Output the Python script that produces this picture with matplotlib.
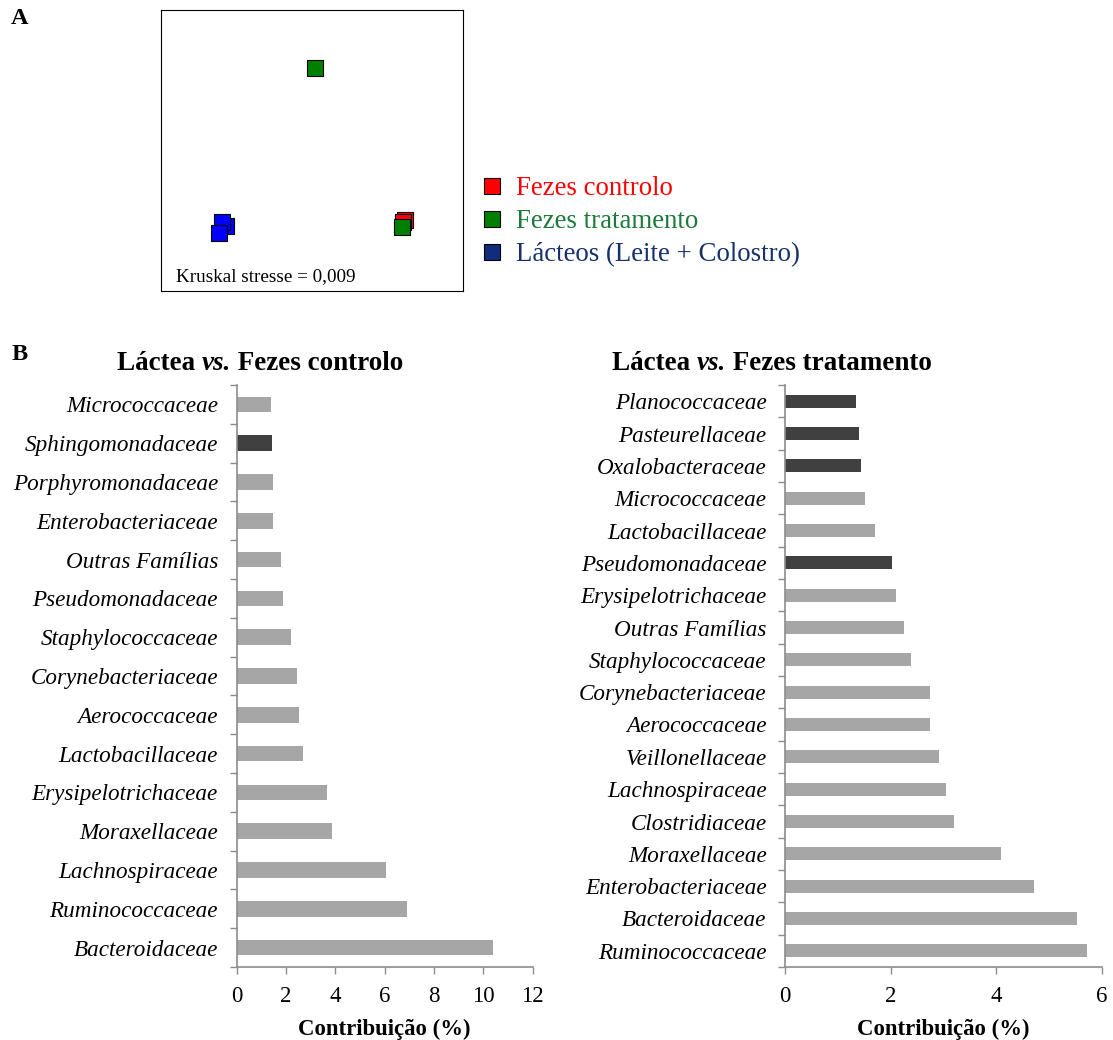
import matplotlib
matplotlib.use("Agg")
import matplotlib.pyplot as plt
from matplotlib.lines import Line2D
import numpy as np

plt.rcParams['font.family'] = ['Liberation Serif', 'DejaVu Serif']

# --- panel A: NMDS ordination ---
nmds_groups = ['Fezes controlo', 'Fezes tratamento', 'Lácteos (Leite + Colostro)']
ctrl_x = [0.613, 0.603]
ctrl_y = [-0.498, -0.512]
trat_x = [0.020, 0.596]
trat_y = [0.587, -0.541]
lact_x = [-0.570, -0.593, -0.613]
lact_y = [-0.537, -0.512, -0.587]
stress_txt = 'Kruskal stresse = 0,009'

# --- panel B: SIMPER contributions ---
left_fam = ['Bacteroidaceae', 'Ruminococcaceae', 'Lachnospiraceae', 'Moraxellaceae',
            'Erysipelotrichaceae', 'Lactobacillaceae', 'Aerococcaceae', 'Corynebacteriaceae',
            'Staphylococcaceae', 'Pseudomonadaceae', 'Outras Famílias', 'Enterobacteriaceae',
            'Porphyromonadaceae', 'Sphingomonadaceae', 'Micrococcaceae']
left_val = [10.40, 6.89, 6.05, 3.88, 3.65, 2.70, 2.54, 2.44, 2.19, 1.86, 1.78, 1.49, 1.47, 1.43, 1.39]
left_dark = ['Sphingomonadaceae']

right_fam = ['Ruminococcaceae', 'Bacteroidaceae', 'Enterobacteriaceae', 'Moraxellaceae',
             'Clostridiaceae', 'Lachnospiraceae', 'Veillonellaceae', 'Aerococcaceae',
             'Corynebacteriaceae', 'Staphylococcaceae', 'Outras Famílias', 'Erysipelotrichaceae',
             'Pseudomonadaceae', 'Lactobacillaceae', 'Micrococcaceae', 'Oxalobacteraceae',
             'Pasteurellaceae', 'Planococcaceae']
right_val = [5.72, 5.53, 4.72, 4.09, 3.20, 3.05, 2.92, 2.74, 2.74, 2.39, 2.24, 2.09,
             2.02, 1.70, 1.51, 1.43, 1.40, 1.34]
right_dark = ['Pseudomonadaceae', 'Oxalobacteraceae', 'Pasteurellaceae', 'Planococcaceae']

LIGHT = '#a6a6a6'
DARK = '#404040'
SPINE = '#8c8c8c'
W, H = 1113, 1040

fig = plt.figure(figsize=(W / 100, H / 100), dpi=100)

# panel A
axA = fig.add_axes([161/W, 1-291/H, 302/W, 281/H])
axA.scatter(ctrl_x, ctrl_y, marker='s', s=120, c='#ff0000', edgecolors='black', linewidths=0.8, zorder=3)
axA.scatter(trat_x, trat_y, marker='s', s=120, c='#008000', edgecolors='black', linewidths=0.8, zorder=4)
axA.scatter(lact_x, lact_y, marker='s', s=120, c='#0000ff', edgecolors='black', linewidths=0.8, zorder=3)
axA.set_xlim(-1, 1)
axA.set_ylim(-1, 1)
axA.set_xticks([])
axA.set_yticks([])
for sp in axA.spines.values():
    sp.set_linewidth(0.8)
axA.text(15/302, 6/281, stress_txt, transform=axA.transAxes, fontsize=13.8, va='bottom', ha='left')

handles = [Line2D([], [], ls='none', marker='s', ms=11.5, mfc=c, mec='black', mew=0.8)
           for c in ['#ff0000', '#008000', '#0f2d7a']]
fig.legend(handles, nmds_groups, loc='upper left', bbox_to_anchor=(481/W, 1-176/H),
           frameon=False, fontsize=19.4, handlelength=0.8, handletextpad=0.5,
           labelspacing=0.3, borderpad=0, borderaxespad=0,
           labelcolor=['#ff0000', '#1b7a3a', '#16306e'])

fig.text(20/W, 1-18/H, 'A', fontsize=17.5, fontweight='bold', va='center', ha='center')
fig.text(20/W, 1-355/H, 'B', fontsize=17.5, fontweight='bold', va='center', ha='center')


def bar_panel(rect, fams, vals, dark, xmax, title_rest, title_x):
    ax = fig.add_axes(rect)
    n = len(fams)
    y = np.arange(n)
    cols = [DARK if f in dark else LIGHT for f in fams]
    ax.barh(y, vals, height=0.4, color=cols, zorder=2)
    ax.set_ylim(-0.5, n - 0.5)
    ax.set_xlim(0, xmax)
    ax.set_xticks(np.arange(0, xmax + 1, 2))
    # category boundary ticks (major) and labels at centres (minor)
    ax.set_yticks(np.arange(n + 1) - 0.5)
    ax.set_yticklabels([])
    ax.set_yticks(y, minor=True)
    ax.set_yticklabels(fams, minor=True, style='italic', fontsize=16.7)
    ax.tick_params(axis='y', which='minor', length=0, pad=13.5)
    ax.tick_params(axis='y', which='major', length=5, color=SPINE, width=1)
    ax.tick_params(axis='x', length=5, color=SPINE, width=1, labelsize=16.5, pad=9)
    for s in ['top', 'right']:
        ax.spines[s].set_visible(False)
    for s in ['left', 'bottom']:
        ax.spines[s].set_color(SPINE)
        ax.spines[s].set_linewidth(1.2)
    ax.set_xlabel('Contribuição (%)', fontsize=16.4, fontweight='bold', labelpad=8)
    # title: "Láctea vs. Fezes ..." with italic "vs."
    t1 = fig.text(title_x, 1-370/H, 'Láctea ', fontsize=19.5, fontweight='bold',
                  ha='left', va='baseline')
    t2 = ax.annotate('vs.', xy=(1, 0), xycoords=t1, fontsize=19.5, fontweight='bold',
                     style='italic', va='bottom', ha='left')
    ax.annotate(' ' + title_rest, xy=(1, 0), xycoords=t2, fontsize=19.5, fontweight='bold',
                va='bottom', ha='left')
    return ax


bar_panel([236.7/W, 1-967/H, 296/W, 582/H], left_fam, left_val, left_dark,
          12, 'Fezes controlo', 117/W)
bar_panel([785.3/W, 1-967/H, 316.7/W, 582/H], right_fam, right_val, right_dark,
          6, 'Fezes tratamento', 612/W)

fig.savefig('out.png', dpi=100)
